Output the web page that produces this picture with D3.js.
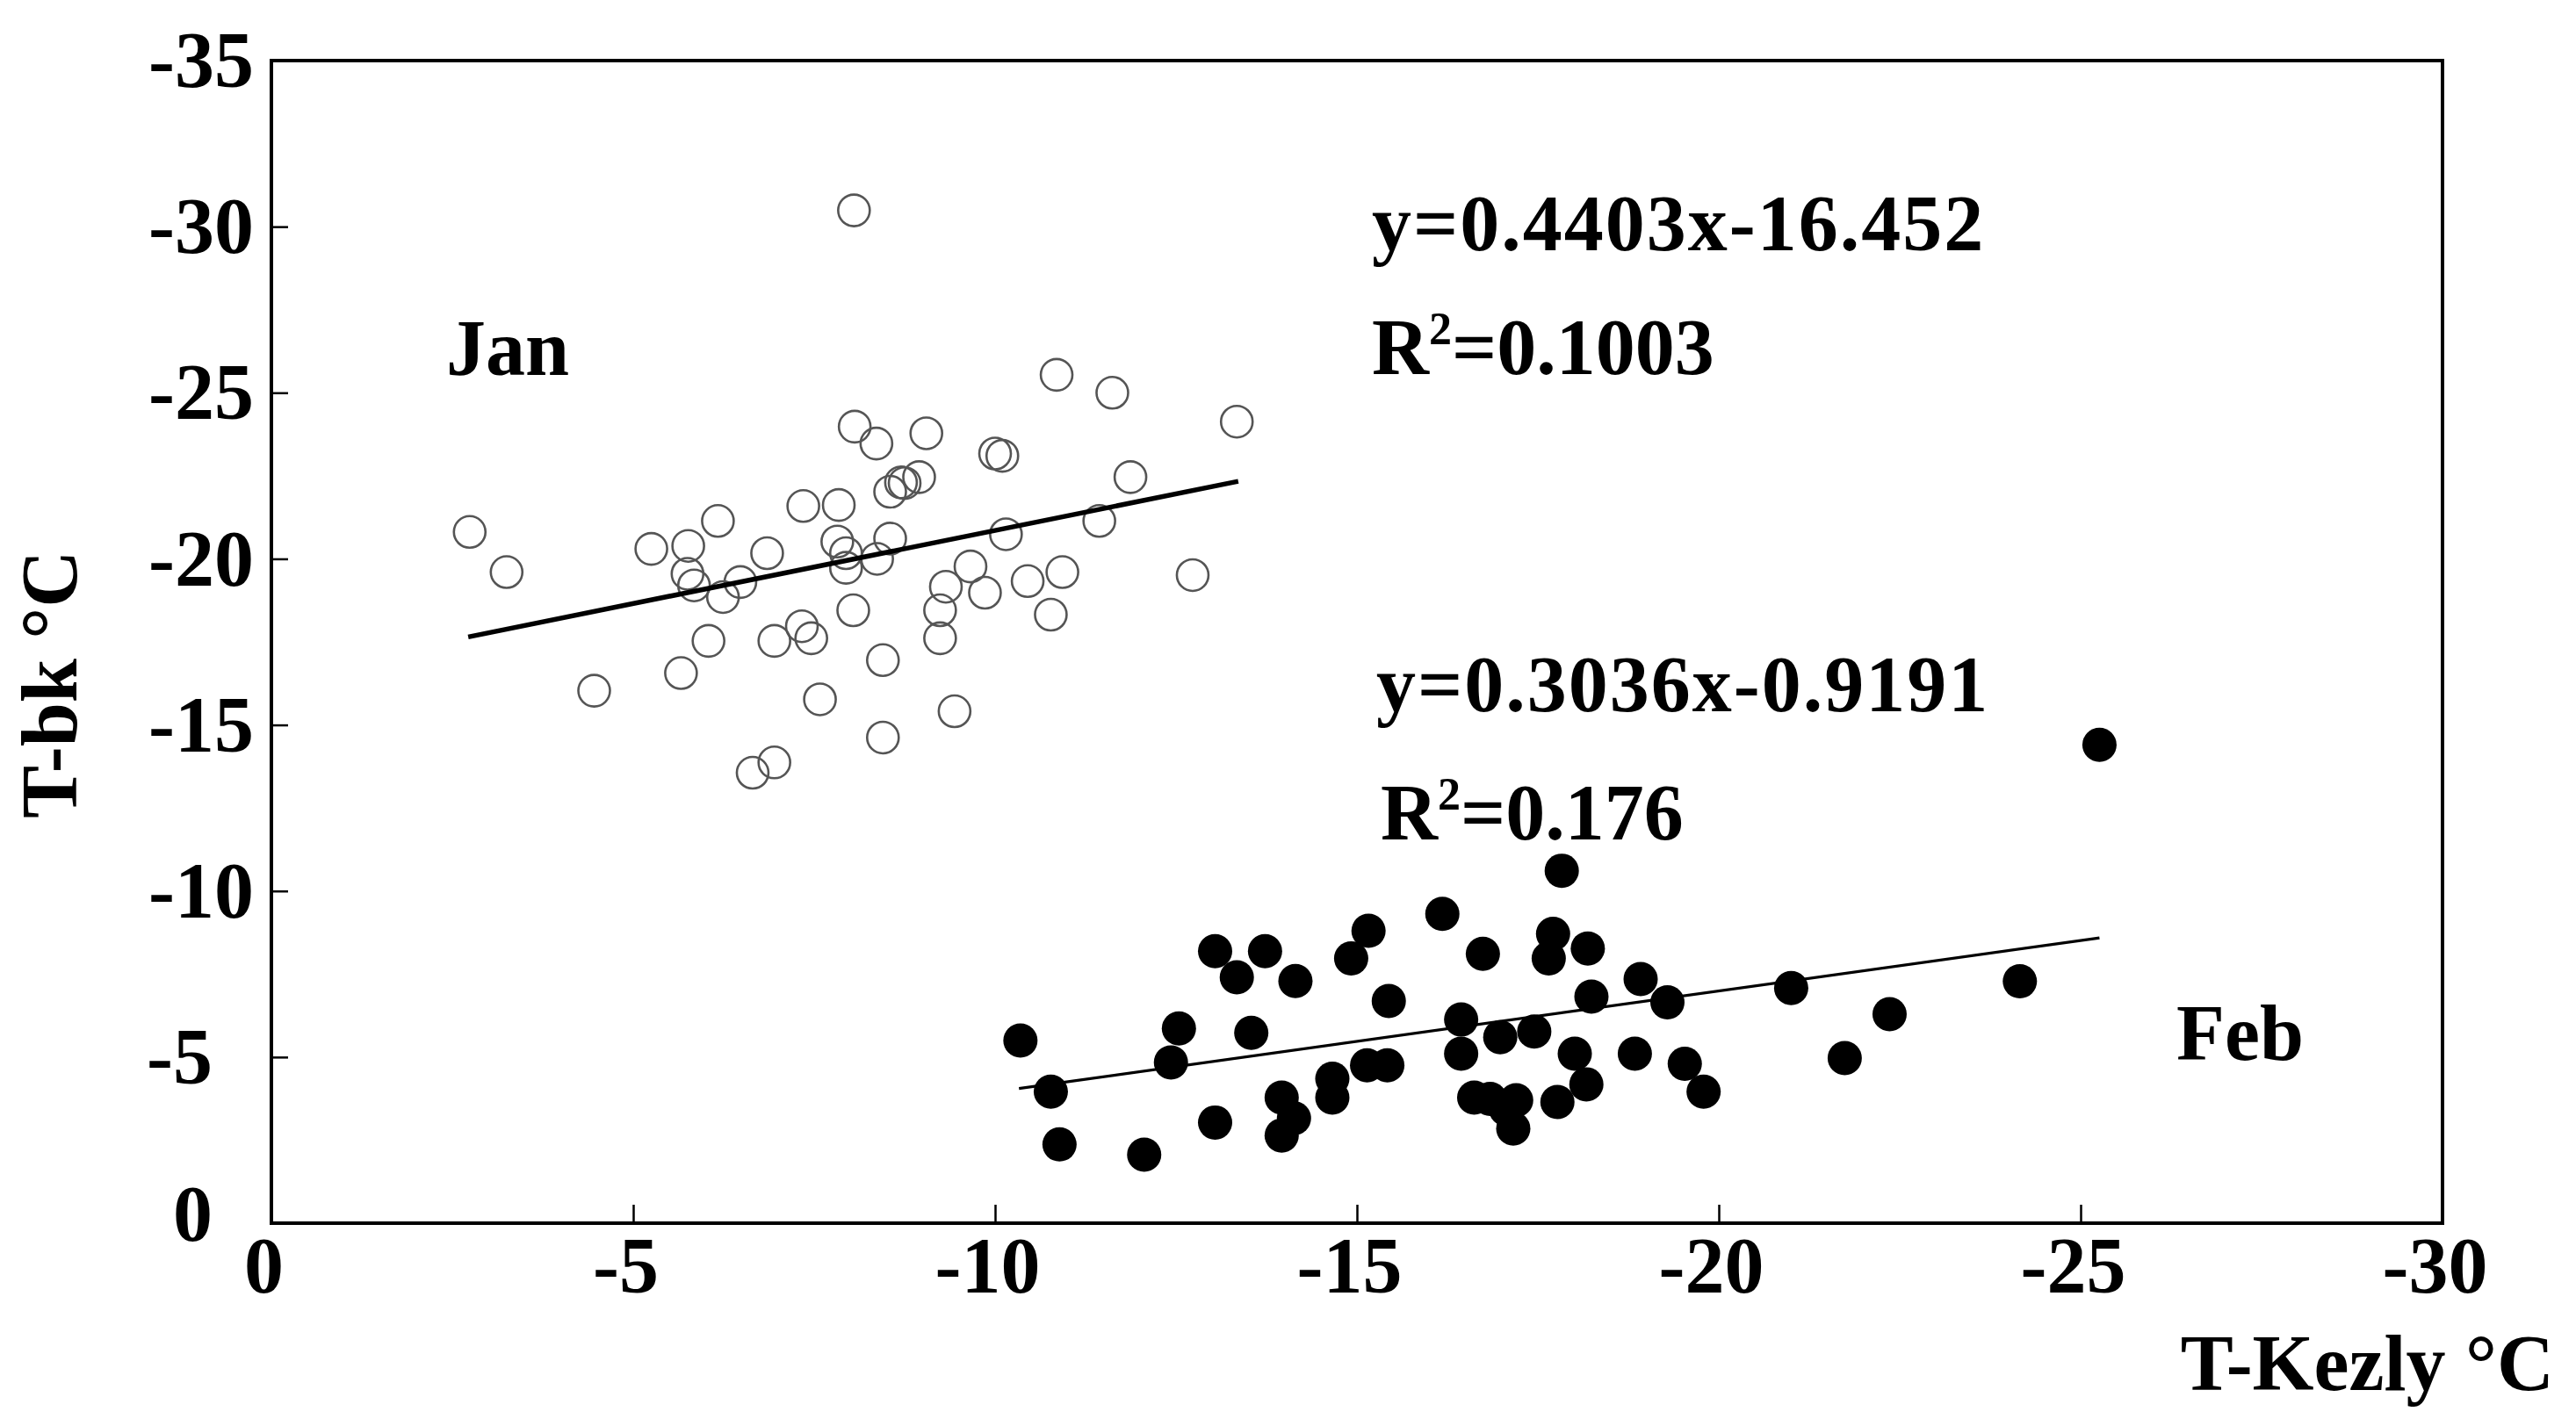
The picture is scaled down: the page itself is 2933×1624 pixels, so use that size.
<!DOCTYPE html>
<html>
<head>
<meta charset="utf-8">
<script src="https://cdn.jsdelivr.net/npm/d3@7"></script>
<style>
  body { margin: 0; background: #fff; }
  text { font-family: "Liberation Serif", "Times New Roman", serif; font-weight: bold; fill: #000; }
</style>
</head>
<body>
<div id="chart"></div>
<script>
// January, open circles (T-Kezly, T-bk)
var janX = [-2.74, -3.25, -5.25, -5.76, -6.17, -5.75, -5.84, -6.24, -6.48, -6.85,
            -7.35, -7.84, -8.06, -7.82, -7.94, -7.94, -8.04, -7.33, -7.46, -6.95,
            -6.04, -5.66, -4.46, -7.58, -6.95, -6.65, -8.05, -8.36, -9.05, -10.0,
            -10.1, -10.85, -11.62, -13.34, -8.75, -8.95, -8.55, -11.87, -8.55, -8.37,
            -10.15, -11.44, -9.66, -9.32, -9.86, -10.45, -10.93, -12.73, -9.24, -9.24,
            -10.77, -8.45, -9.44, -8.45, -8.7];
var janY = [-20.81, -19.6, -20.3, -20.39, -21.14, -19.55, -19.2, -18.85, -19.3, -20.17,
            -21.59, -21.62, -23.98, -20.52, -20.17, -19.73, -18.45, -17.97, -17.61, -17.53,
            -17.53, -16.56, -16.03, -15.77, -13.87, -13.56, -30.49, -23.47, -23.78, -23.17,
            -23.1, -25.54, -25.0, -24.13, -22.28, -22.46, -22.02, -22.46, -20.61, -20.0,
            -20.74, -21.14, -19.77, -19.16, -18.98, -19.33, -19.6, -19.51, -18.45, -17.61,
            -18.32, -16.95, -15.41, -14.62, -22.3];

// February, filled circles
var febX = [-10.35, -10.77, -10.89, -12.06, -13.04, -13.34, -13.73, -14.15, -12.54, -12.43,
            -13.54, -13.04, -13.96, -14.13, -13.96, -14.66, -14.66, -15.16, -14.92, -15.44,
            -15.14, -15.42, -17.83, -16.18, -16.74, -17.71, -17.65, -18.19, -18.24, -18.92,
            -19.29, -21.0, -22.36, -21.74, -16.44, -16.44, -16.98, -17.45, -18.01, -18.17,
            -17.77, -18.84, -19.53, -19.79, -16.62, -16.84, -17.2, -17.16, -17.06, -25.26,
            -24.16];
var febY = [-5.5, -3.96, -2.37, -2.06, -8.19, -7.4, -8.19, -7.29, -5.86, -4.84,
            -5.73, -3.03, -3.78, -3.16, -2.64, -4.35, -3.78, -8.8, -7.97, -6.69,
            -4.75, -4.75, -10.61, -9.31, -8.11, -8.71, -7.97, -8.27, -6.82, -7.35,
            -6.65, -7.08, -6.29, -4.97, -6.13, -5.1, -5.6, -5.77, -5.1, -4.18,
            -3.65, -5.1, -4.8, -3.96, -3.78, -3.74, -3.7, -2.85, -3.43, -14.4,
            -7.28];

// fitted lines: slope, intercept, x range
var janFit = [0.4403, -16.452, -2.72, -13.36];
var febFit = [0.3036, -0.9191, -10.33, -25.26];

var xTicks = [0, -5, -10, -15, -20, -25, -30];
var yTicks = [0, -5, -10, -15, -20, -25, -30, -35];

var width = 2933, height = 1624;
var margin = {left: 309, right: 2781, top: 69, bottom: 1393};

var svg = d3.select("#chart")
    .append("svg")
    .attr("width", width)
    .attr("height", height);

svg.append("rect").attr("width", width).attr("height", height).attr("fill", "#fff");

var x = d3.scaleLinear().domain([0, -30]).range([margin.left, margin.right]);
var y = d3.scaleLinear().domain([0, -35]).range([margin.bottom, margin.top]);

// axes with inward ticks
var xAxis = svg.append("g")
    .attr("transform", "translate(0," + margin.bottom + ")")
    .call(d3.axisBottom(x).tickValues(xTicks).tickSizeInner(-21).tickSizeOuter(0)
          .tickPadding(15).tickFormat(function(d){ return String(d); }));
xAxis.select(".domain").remove();
xAxis.selectAll("line").attr("stroke", "#000").attr("stroke-width", 2.5);
xAxis.selectAll("text")
    .attr("font-size", "90px")
    .attr("dx", -9)
    .attr("font-family", "Liberation Serif, Times New Roman, serif");

var yAxis = svg.append("g")
    .attr("transform", "translate(" + margin.left + ",0)")
    .call(d3.axisLeft(y).tickValues(yTicks).tickSizeInner(-19).tickSizeOuter(0)
          .tickPadding(20).tickFormat(function(d){ return String(d); }));
yAxis.select(".domain").remove();
yAxis.selectAll("line").attr("stroke", "#000").attr("stroke-width", 2.5);
yAxis.selectAll("text")
    .attr("font-size", "90px")
    .attr("font-family", "Liberation Serif, Times New Roman, serif")
    .attr("x", function(d){ return String(d).length < 3 ? -67 : -20; })
    .attr("dy", function(d){ return d === 0 ? "0.22em" : "0.33em"; });

// frame
svg.append("rect")
    .attr("x", margin.left).attr("y", margin.top)
    .attr("width", margin.right - margin.left).attr("height", margin.bottom - margin.top)
    .attr("fill", "none")
    .attr("stroke", "#000")
    .attr("stroke-width", 4);

// points
svg.selectAll(".jan")
    .data(janX)
    .enter()
    .append("circle")
    .attr("class", "jan")
    .attr("cx", function(d){ return x(d); })
    .attr("cy", function(d, i){ return y(janY[i]); })
    .attr("r", 18)
    .attr("fill", "none")
    .attr("stroke", "#555")
    .attr("stroke-width", 2.6);

svg.selectAll(".feb")
    .data(febX)
    .enter()
    .append("circle")
    .attr("class", "feb")
    .attr("cx", function(d){ return x(d); })
    .attr("cy", function(d, i){ return y(febY[i]); })
    .attr("r", 19.5)
    .attr("fill", "#000");

// regression lines
var fitLine = function(f, w){
    svg.append("line")
        .attr("x1", x(f[2])).attr("y1", y(f[0] * f[2] + f[1]))
        .attr("x2", x(f[3])).attr("y2", y(f[0] * f[3] + f[1]))
        .attr("stroke", "#000")
        .attr("stroke-width", w);
};
fitLine(janFit, 5.5);
fitLine(febFit, 3.2);

// labels
var label = function(px, py, str){
    return svg.append("text")
        .attr("x", px).attr("y", py)
        .attr("font-size", "90px")
        .text(str);
};
label(508, 427, "Jan");
label(2478, 1207, "Feb");

label(1562, 285, "y=0.4403x-16.452").attr("letter-spacing", "2px");
var r1 = label(1562, 426, "R");
r1.append("tspan").attr("font-size", "52px").attr("dy", -34).text("2");
r1.append("tspan").attr("dy", 34).text("=0.1003");

label(1567, 810, "y=0.3036x-0.9191").attr("letter-spacing", "2px");
var r2 = label(1572, 956, "R");
r2.append("tspan").attr("font-size", "52px").attr("dy", -34).text("2");
r2.append("tspan").attr("dy", 34).text("=0.176");

// axis titles
label(2908, 1583, "T-Kezly \u00B0C").attr("text-anchor", "end");
svg.append("text")
    .attr("transform", "translate(87,932) rotate(-90)")
    .attr("font-size", "90px")
    .text("T-bk \u00B0C");
</script>
</body>
</html>
